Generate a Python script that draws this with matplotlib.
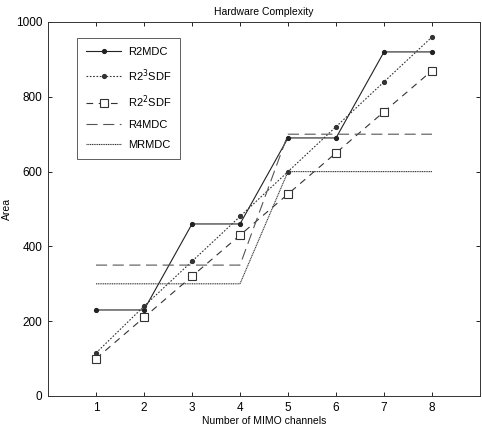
import matplotlib
matplotlib.use("Agg")
import matplotlib.pyplot as plt

plt.rcParams['font.family'] = ['Liberation Sans', 'DejaVu Sans']

channels = [1, 2, 3, 4, 5, 6, 7, 8]
r2mdc = [230, 230, 460, 460, 690, 690, 920, 920]
r2_3sdf = [115, 240, 360, 480, 600, 720, 840, 960]
r2_2sdf = [100, 210, 320, 430, 540, 650, 760, 870]
r4mdc = [350, 350, 350, 350, 700, 700, 700, 700]
mrmdc = [300, 300, 300, 300, 600, 600, 600, 600]

labels = ['R2MDC', r'R2$^3$SDF', r'R2$^2$SDF', 'R4MDC', 'MRMDC']
x_ticks = [1, 2, 3, 4, 5, 6, 7, 8]
y_ticks = [0, 200, 400, 600, 800, 1000]

fig = plt.figure(figsize=(4.82, 4.26), dpi=100)
ax = fig.add_axes([48/482, 30/426, 432/482, 374/426])

ax.plot(channels, r2mdc, color='#222222', lw=0.8, ls='-', marker='.', ms=5.5, label=labels[0])
ax.plot(channels, r2_3sdf, color='#333333', lw=0.8, ls=(0, (1.5, 1.5)), marker='.', ms=5.5, label=labels[1])
ax.plot(channels, r2_2sdf, color='#333333', lw=0.8, ls=(0, (6, 5)), marker='s', ms=6,
        mfc='white', mec='#333333', mew=0.8, label=labels[2])
ax.plot(channels, r4mdc, color='#555555', lw=0.8, ls=(0, (10, 5)), label=labels[3])
ax.plot(channels, mrmdc, color='#333333', lw=0.8, ls=(0, (1, 0.6)), label=labels[4])

ax.set_xlim(0, 9)
ax.set_ylim(0, 1000)
ax.set_xticks(x_ticks)
ax.set_yticks(y_ticks)
ax.tick_params(direction='in', length=3, width=0.6, labelsize=8.5, top=True, right=True, pad=4)
for s in ax.spines.values():
    s.set_linewidth(0.7)
    s.set_color('#333333')

ax.set_title('Hardware Complexity', fontsize=7.5, pad=5)
ax.set_xlabel('Number of MIMO channels', fontsize=7.5, labelpad=2)
ax.set_ylabel('Area', fontsize=7.5, labelpad=3)

leg = ax.legend(loc='upper left', bbox_to_anchor=(0.067, 0.957), borderaxespad=0,
                fancybox=False, edgecolor='#444444', fontsize=8, handlelength=3.2,
                labelspacing=0.9, borderpad=0.8, handletextpad=0.6, framealpha=1)
leg.get_frame().set_linewidth(0.6)

fig.savefig('out.png', dpi=100)
